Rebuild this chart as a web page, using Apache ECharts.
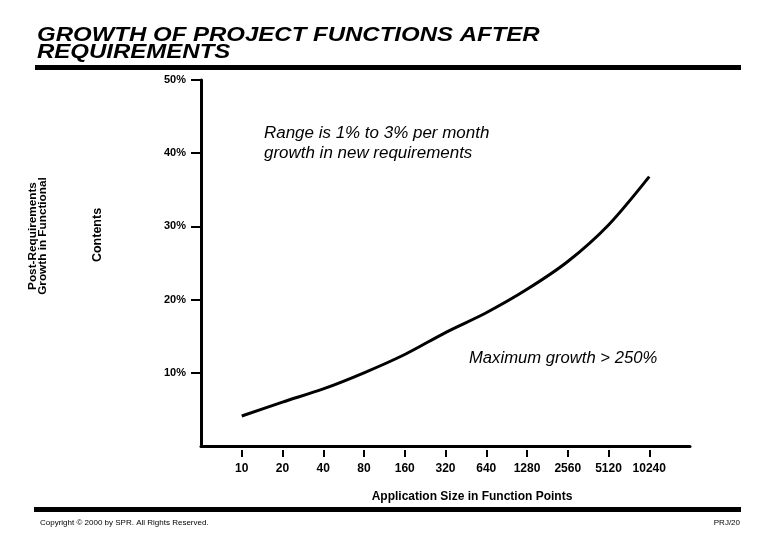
<!DOCTYPE html>
<html>
<head>
<meta charset="utf-8">
<script src="https://cdn.jsdelivr.net/npm/echarts@6/dist/echarts.min.js"></script>
<style>html,body{margin:0;padding:0;background:#fff;}#chart{width:780px;height:540px;}</style>
</head>
<body>
<div id="chart"></div>
<script>
var sizes = ['10','20','40','80','160','320','640','1280','2560','5120','10240'];
var growth = [4.1, 6.0, 7.8, 10.0, 12.5, 15.5, 18.2, 21.4, 25.2, 30.2, 36.8];
var yTicks = [10, 20, 30, 40, 50];

var cats = [''].concat(sizes).concat(['']);
var vals = [null].concat(growth).concat([null]);

var chart = echarts.init(document.getElementById('chart'), null, {renderer: 'canvas'});
var narrow = 'Liberation Sans Narrow, Liberation Sans, Arial, sans-serif';
var sans = 'Liberation Sans, Arial, sans-serif';
chart.setOption({
  animation: false,
  backgroundColor: '#fff',
  grid: {left: 201, right: 90, top: 80, bottom: 94, containLabel: false},
  xAxis: [{
    type: 'category', data: cats, boundaryGap: false,
    axisLine: {lineStyle: {color: '#000', width: 3}},
    axisTick: {show: false}, axisLabel: {show: false}, splitLine: {show: false}
  }, {
    type: 'category', data: cats, boundaryGap: false, position: 'bottom', offset: 4,
    axisLine: {show: false},
    axisTick: {show: true, length: 7, lineStyle: {color: '#000', width: 2},
      interval: function (i, v) { return v !== ''; }},
    axisLabel: {show: true, interval: 0, margin: 13, color: '#000', fontFamily: narrow, fontWeight: 'bold', fontSize: 12}
  }],
  yAxis: {
    type: 'value', min: 0, max: 50, interval: 10,
    axisLine: {show: true, lineStyle: {color: '#000', width: 3}},
    axisTick: {show: true, length: 10, customValues: yTicks, lineStyle: {color: '#000', width: 2}},
    axisLabel: {customValues: yTicks, formatter: '{value}%', margin: 15, color: '#000', fontFamily: narrow, fontWeight: 'bold', fontSize: 11},
    splitLine: {show: false}
  },
  series: [{
    type: 'line', data: vals, xAxisIndex: 0, smooth: 0.3, showSymbol: false,
    lineStyle: {color: '#000', width: 3}
  }],
  graphic: [
    {type: 'text', x: 37, y: 27, scaleX: 1.2, style: {text: 'GROWTH OF PROJECT FUNCTIONS AFTER\nREQUIREMENTS', fontFamily: sans, fontStyle: 'italic', fontWeight: 'bold', fontSize: 20, lineHeight: 17, fill: '#000'}},
    {type: 'rect', shape: {x: 35, y: 65, width: 706, height: 5}, style: {fill: '#000'}},
    {type: 'rect', shape: {x: 34, y: 507, width: 707, height: 5}, style: {fill: '#000'}},
    {type: 'text', x: 264, y: 124, scaleX: 1.06, style: {text: 'Range is 1% to 3% per month\ngrowth in new requirements', fontFamily: sans, fontStyle: 'italic', fontSize: 16, lineHeight: 20, fill: '#000'}},
    {type: 'text', x: 469, y: 351, scaleX: 1.04, style: {text: 'Maximum growth > 250%', fontFamily: sans, fontStyle: 'italic', fontSize: 16, fill: '#000'}},
    {type: 'text', x: 472, y: 497, style: {text: 'Application Size in Function Points', align: 'center', verticalAlign: 'middle', fontFamily: narrow, fontWeight: 'bold', fontSize: 12, fill: '#000'}},
    {type: 'text', x: 38, y: 236, rotation: Math.PI / 2, scaleX: 1.12, style: {text: 'Post-Requirements\nGrowth in Functional', align: 'center', verticalAlign: 'middle', fontFamily: narrow, fontWeight: 'bold', fontSize: 10.5, lineHeight: 10, fill: '#000'}},
    {type: 'text', x: 98, y: 235, rotation: Math.PI / 2, style: {text: 'Contents', align: 'center', verticalAlign: 'middle', fontFamily: narrow, fontWeight: 'bold', fontSize: 12.5, fill: '#000'}},
    {type: 'text', x: 40, y: 519, style: {text: 'Copyright \u00a9 2000 by SPR. All Rights Reserved.', fontFamily: narrow, fontSize: 8, fill: '#000'}},
    {type: 'text', x: 740, y: 519, style: {text: 'PRJ/20', align: 'right', fontFamily: narrow, fontSize: 8, fill: '#000'}}
  ]
});
</script>
</body>
</html>
